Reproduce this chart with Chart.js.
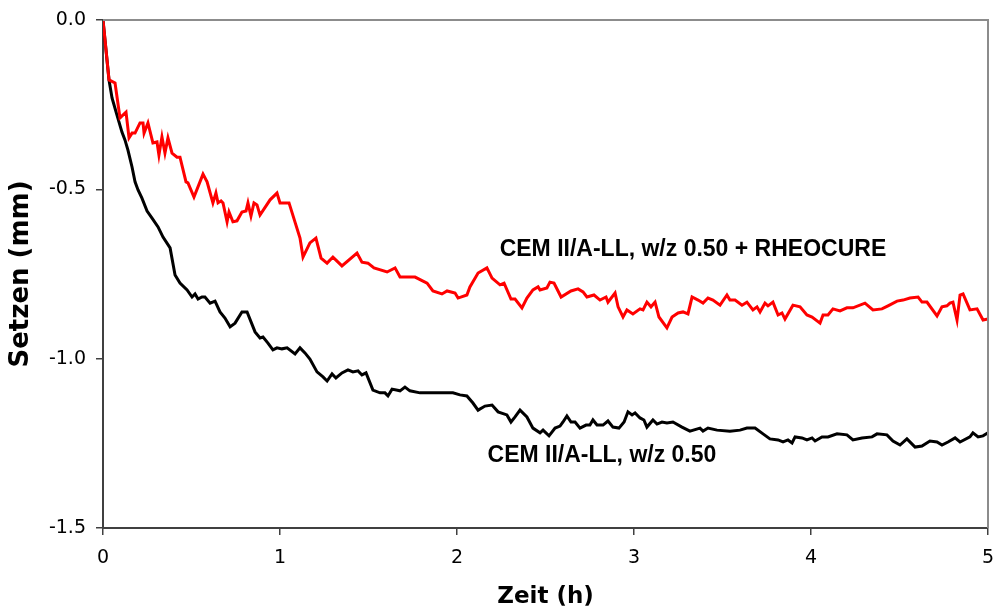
<!DOCTYPE html>
<html>
<head>
<meta charset="utf-8">
<script src="https://cdn.jsdelivr.net/npm/chart.js@4.4.1/dist/chart.umd.min.js"></script>
<style>
  html, body { margin: 0; padding: 0; background: #ffffff; }
  #wrap { width: 996px; height: 614px; }
</style>
</head>
<body>
<div id="wrap"><canvas id="c" width="996" height="614"></canvas></div>
<script>
// ---- Data (time in h, settlement in mm) ----
const rheoTime = [0,0.034,0.068,0.096,0.130,0.147,0.164,0.181,0.209,0.226,0.232,0.254,0.282,0.305,0.316,0.333,0.350,0.367,0.390,0.418,0.435,0.469,0.480,0.514,0.565,0.588,0.621,0.638,0.650,0.667,0.678,0.701,0.712,0.734,0.757,0.785,0.808,0.819,0.836,0.853,0.870,0.887,0.944,0.983,1.000,1.051,1.113,1.130,1.169,1.203,1.232,1.266,1.299,1.350,1.435,1.463,1.497,1.531,1.605,1.650,1.678,1.763,1.831,1.864,1.915,1.944,1.989,2.006,2.056,2.073,2.119,2.169,2.198,2.243,2.266,2.305,2.328,2.367,2.395,2.429,2.458,2.469,2.508,2.525,2.548,2.588,2.644,2.684,2.712,2.734,2.774,2.808,2.842,2.853,2.893,2.910,2.938,2.960,2.994,3.034,3.051,3.073,3.096,3.119,3.141,3.186,3.215,3.249,3.277,3.305,3.328,3.362,3.390,3.418,3.446,3.486,3.525,3.542,3.571,3.610,3.638,3.672,3.695,3.712,3.740,3.757,3.785,3.814,3.836,3.853,3.898,3.938,3.977,4.006,4.051,4.068,4.096,4.124,4.164,4.203,4.237,4.305,4.350,4.401,4.435,4.486,4.520,4.559,4.605,4.627,4.655,4.712,4.740,4.768,4.785,4.802,4.825,4.842,4.859,4.898,4.938,4.972,5.000];
const rheoSettle = [0,-0.177,-0.186,-0.289,-0.272,-0.348,-0.334,-0.334,-0.304,-0.304,-0.334,-0.304,-0.363,-0.360,-0.399,-0.345,-0.393,-0.348,-0.393,-0.405,-0.405,-0.478,-0.481,-0.523,-0.455,-0.478,-0.540,-0.511,-0.540,-0.534,-0.540,-0.596,-0.567,-0.596,-0.593,-0.567,-0.564,-0.540,-0.579,-0.540,-0.546,-0.576,-0.531,-0.511,-0.540,-0.540,-0.644,-0.700,-0.658,-0.644,-0.703,-0.718,-0.700,-0.726,-0.688,-0.715,-0.718,-0.732,-0.744,-0.732,-0.759,-0.759,-0.777,-0.800,-0.809,-0.800,-0.806,-0.821,-0.812,-0.788,-0.747,-0.732,-0.762,-0.782,-0.777,-0.824,-0.824,-0.850,-0.821,-0.797,-0.788,-0.797,-0.791,-0.774,-0.777,-0.818,-0.800,-0.794,-0.803,-0.818,-0.812,-0.827,-0.818,-0.833,-0.806,-0.847,-0.877,-0.856,-0.868,-0.853,-0.856,-0.833,-0.847,-0.833,-0.877,-0.909,-0.877,-0.865,-0.862,-0.868,-0.818,-0.827,-0.836,-0.821,-0.827,-0.842,-0.812,-0.827,-0.827,-0.842,-0.833,-0.856,-0.847,-0.862,-0.836,-0.844,-0.833,-0.871,-0.865,-0.883,-0.842,-0.847,-0.871,-0.877,-0.895,-0.871,-0.871,-0.853,-0.859,-0.850,-0.850,-0.836,-0.856,-0.853,-0.844,-0.830,-0.827,-0.821,-0.818,-0.833,-0.833,-0.874,-0.847,-0.844,-0.836,-0.833,-0.886,-0.812,-0.809,-0.856,-0.853,-0.886,-0.883];

const refTime = [0,0.034,0.051,0.079,0.107,0.124,0.141,0.164,0.181,0.198,0.220,0.249,0.277,0.311,0.339,0.379,0.407,0.435,0.475,0.503,0.520,0.537,0.559,0.576,0.605,0.633,0.661,0.689,0.718,0.746,0.785,0.814,0.859,0.887,0.904,0.932,0.960,0.983,1.011,1.040,1.085,1.113,1.141,1.169,1.209,1.243,1.266,1.294,1.316,1.350,1.384,1.412,1.441,1.463,1.486,1.525,1.565,1.593,1.610,1.633,1.678,1.706,1.734,1.791,1.864,1.921,1.977,2.017,2.056,2.090,2.119,2.158,2.198,2.232,2.282,2.305,2.328,2.356,2.395,2.429,2.469,2.486,2.520,2.554,2.582,2.599,2.621,2.644,2.667,2.695,2.729,2.751,2.768,2.791,2.825,2.853,2.881,2.915,2.944,2.966,2.989,3.006,3.034,3.056,3.073,3.107,3.130,3.158,3.186,3.220,3.271,3.316,3.373,3.390,3.418,3.469,3.542,3.599,3.638,3.684,3.729,3.768,3.814,3.842,3.870,3.893,3.910,3.949,3.977,4.006,4.023,4.062,4.096,4.147,4.203,4.237,4.288,4.345,4.373,4.429,4.463,4.503,4.542,4.588,4.627,4.672,4.712,4.740,4.774,4.814,4.842,4.898,4.915,4.944,4.972,5.000];
const refSettle = [0,-0.177,-0.230,-0.281,-0.331,-0.354,-0.384,-0.434,-0.478,-0.502,-0.526,-0.564,-0.585,-0.611,-0.641,-0.673,-0.753,-0.777,-0.797,-0.818,-0.809,-0.824,-0.818,-0.818,-0.836,-0.830,-0.862,-0.880,-0.906,-0.895,-0.862,-0.862,-0.921,-0.939,-0.936,-0.954,-0.974,-0.968,-0.971,-0.968,-0.986,-0.968,-0.983,-1.001,-1.039,-1.054,-1.066,-1.045,-1.057,-1.042,-1.033,-1.039,-1.036,-1.048,-1.042,-1.093,-1.101,-1.101,-1.110,-1.090,-1.095,-1.084,-1.095,-1.101,-1.101,-1.101,-1.101,-1.107,-1.110,-1.131,-1.152,-1.140,-1.137,-1.157,-1.166,-1.187,-1.172,-1.152,-1.172,-1.205,-1.219,-1.211,-1.228,-1.205,-1.199,-1.187,-1.169,-1.187,-1.187,-1.205,-1.196,-1.196,-1.181,-1.196,-1.196,-1.184,-1.202,-1.205,-1.187,-1.157,-1.166,-1.160,-1.175,-1.181,-1.202,-1.181,-1.193,-1.187,-1.190,-1.187,-1.202,-1.214,-1.205,-1.214,-1.205,-1.211,-1.214,-1.211,-1.205,-1.205,-1.222,-1.237,-1.240,-1.246,-1.240,-1.249,-1.231,-1.234,-1.240,-1.234,-1.243,-1.231,-1.231,-1.222,-1.225,-1.240,-1.234,-1.231,-1.222,-1.225,-1.243,-1.255,-1.237,-1.261,-1.258,-1.243,-1.246,-1.255,-1.246,-1.234,-1.246,-1.231,-1.219,-1.231,-1.228,-1.219];

const seriesNames = ['CEM II/A-LL, w/z 0.50 + RHEOCURE', 'CEM II/A-LL, w/z 0.50'];
const xTickValues = [0, 1, 2, 3, 4, 5];
const yTickValues = [0.0, -0.5, -1.0, -1.5];
const xTitle = 'Zeit (h)';
const yTitle = 'Setzen (mm)';
// anchor of each series label, in data units (time, settlement)
const labelAnchorTime = [3.333, 2.819];
const labelAnchorSettle = [-0.697, -1.305];

// ---- Build ----
function zipXY(xs, ys) { return xs.map((x, i) => ({ x: x, y: ys[i] })); }

const frame = {
  id: 'frame',
  afterDatasetsDraw(chart) {
    const { ctx, chartArea: a } = chart;
    ctx.save();
    ctx.strokeStyle = '#8c8c8c';
    ctx.lineWidth = 2;
    ctx.beginPath();
    ctx.moveTo(a.left, a.top);
    ctx.lineTo(a.right, a.top);
    ctx.lineTo(a.right, a.bottom);
    ctx.stroke();
    // series labels
    ctx.fillStyle = '#000000';
    ctx.font = 'bold 23px "Liberation Sans", Arial, sans-serif';
    ctx.textAlign = 'center';
    ctx.textBaseline = 'alphabetic';
    const xs = chart.scales.x, ys = chart.scales.y;
    seriesNames.forEach((name, i) => {
      ctx.fillText(name, xs.getPixelForValue(labelAnchorTime[i]), ys.getPixelForValue(labelAnchorSettle[i]));
    });
    ctx.restore();
  }
};

new Chart(document.getElementById('c'), {
  type: 'line',
  data: {
    datasets: [
      { label: seriesNames[0], data: zipXY(rheoTime, rheoSettle), borderColor: '#ff0000', borderWidth: 3, pointRadius: 0, tension: 0, fill: false },
      { label: seriesNames[1], data: zipXY(refTime, refSettle), borderColor: '#000000', borderWidth: 3, pointRadius: 0, tension: 0, fill: false }
    ]
  },
  options: {
    responsive: false,
    animation: false,
    devicePixelRatio: 1,
    layout: { padding: { top: 20, right: 8, left: 0, bottom: 0 } },
    plugins: { legend: { display: false }, tooltip: { enabled: false } },
    scales: {
      x: {
        type: 'linear', min: 0, max: 5,
        afterBuildTicks(s) { s.ticks = xTickValues.map(v => ({ value: v })); },
        ticks: { color: '#000', font: { family: '"DejaVu Sans", sans-serif', size: 19 }, padding: 12, maxRotation: 0,
                 callback: v => String(v) },
        grid: { drawOnChartArea: false, drawTicks: true, tickLength: 7, color: '#404040', lineWidth: 1.5 },
        border: { display: true, color: '#404040', width: 2 },
        title: { display: true, text: xTitle, color: '#000', font: { family: '"DejaVu Sans", sans-serif', size: 23, weight: 'bold' }, padding: { top: 0, bottom: 3 } },
        afterFit(s) { s.height = 86; s.paddingLeft = 0; s.paddingRight = 0; }
      },
      y: {
        type: 'linear', min: -1.5, max: 0,
        afterBuildTicks(s) { s.ticks = yTickValues.map(v => ({ value: v })); },
        ticks: { color: '#000', font: { family: '"DejaVu Sans", sans-serif', size: 19 }, padding: 10,
                 callback: v => Number(v).toFixed(1) },
        grid: { drawOnChartArea: false, drawTicks: true, tickLength: 7, color: '#404040', lineWidth: 1.5 },
        border: { display: true, color: '#404040', width: 2 },
        title: { display: true, text: yTitle, color: '#000', font: { family: '"DejaVu Sans", sans-serif', size: 26, weight: 'bold' }, padding: { top: 6, bottom: 0 } },
        afterFit(s) { s.width = 103; s.paddingTop = 0; s.paddingBottom = 0; }
      }
    }
  },
  plugins: [frame]
});
</script>
</body>
</html>
